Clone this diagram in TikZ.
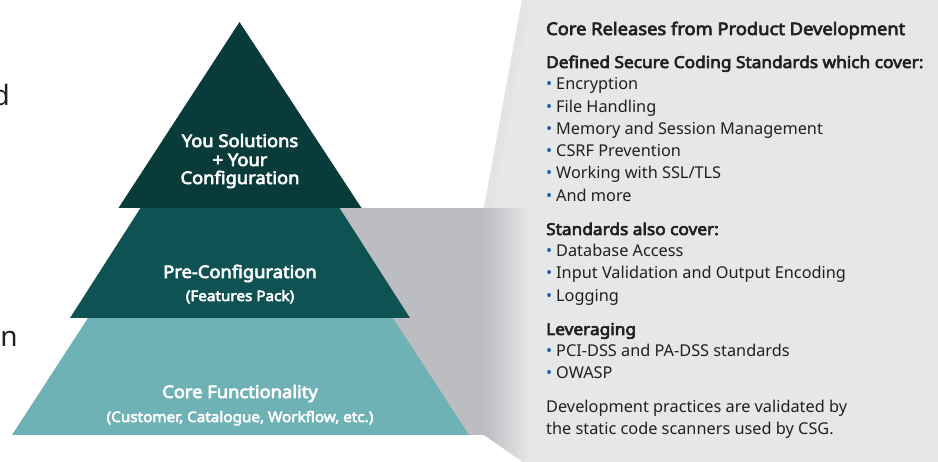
\documentclass[tikz,border=0pt]{standalone}
\usepackage{fontspec}
\setmainfont{Noto Sans}[BoldFont={Noto Sans}, BoldFeatures={FakeBold=3.8, FakeStretch=1.06}]
\usepackage{tikz}
\usetikzlibrary{positioning}
\definecolor{topteal}{HTML}{093B3A}
\definecolor{midteal}{HTML}{0F5254}
\definecolor{baseteal}{HTML}{6FB2B5}
\definecolor{shadowgray}{HTML}{BCBDC0}
\definecolor{panelgray}{HTML}{E6E7E9}
\definecolor{dotblue}{HTML}{1F5DA8}
\definecolor{ink}{HTML}{231F20}
\newcommand{\bul}{\makebox[10pt][l]{\textcolor{dotblue}{\textbullet}}}

\begin{document}
\begin{tikzpicture}[x=1pt,y=-1pt,
    every node/.style={inner sep=0pt, font=\fontsize{16.3}{18}\selectfont, text=ink},
    lvl/.style={anchor=base, text=white, font=\bfseries\fontsize{17.3}{19}\selectfont},
    lvlsub/.style={anchor=base, text=white, font=\bfseries\fontsize{14.4}{16}\selectfont},
    item/.style={anchor=base west},
    head/.style={anchor=base west, font=\bfseries\fontsize{16.3}{18}\selectfont}]
    \useasboundingbox (0,0) rectangle (938,462);

    % grey panel and its shadow
    \fill[panelgray] (522,0) -- (938,0) -- (938,462) -- (523,462) -- (484,435) -- (484,208) -- cycle;
    \fill[panelgray!92!shadowgray] (522,0) -- (530,0) -- (492,208) -- (484,208) -- cycle;
    \fill[shadowgray] (330,208) rectangle (484,435);
    \shade[left color=shadowgray, right color=panelgray] (484,208) -- (530,208) -- (530,462) -- (523,462) -- (484,435) -- cycle;

    % pyramid
    \fill[baseteal] (88,318) -- (393,318) -- (469,435) -- (12,435) -- cycle;
    \fill[midteal] (140.5,208) -- (339.5,208) -- (410,318) -- (70,318) -- cycle;
    \fill[topteal] (239.5,22) -- (361.5,208) -- (118.5,208) -- cycle;

    \node[lvl] (top1) at (240,147) {You Solutions};
    \node[lvl] (top2) at (240,166) {+ Your};
    \node[lvl] (top3) at (240,184) {Configuration};
    \node[lvl] (mid1) at (240,278) {Pre-Configuration};
    \node[lvlsub] (mid2) at (240,301) {(Features Pack)};
    \node[lvl] (core1) at (240,398) {Core Functionality};
    \node[lvlsub] (core2) at (240,422) {(Customer, Catalogue, Workflow, etc.)};

    % cut-off words on the left
    \node[anchor=base east, font=\fontsize{28}{30}\selectfont] (cut1) at (10,106) {d};
    \node[anchor=base east, font=\fontsize{28}{30}\selectfont] (cut2) at (18,347) {n};

    % panel text
    \node[head, font=\bfseries\fontsize{17.3}{20}\selectfont] (hd) at (546,35) {Core Releases from Product Development};
    \node[head] (hd1) at (546,68) {Defined Secure Coding Standards which cover:};
    \foreach \y/\t [count=\i] in {90/Encryption, 113/File Handling, 135/Memory and Session Management,
        157/CSRF Prevention, 179/{Working with SSL/TLS}, 202/And more}
        \node[item] (a\i) at (546,\y) {\bul\t};
    \node[head] (hd2) at (546,235) {Standards also cover:};
    \foreach \y/\t [count=\i] in {257/Database Access, 279/Input Validation and Output Encoding, 302/Logging}
        \node[item] (b\i) at (546,\y) {\bul\t};
    \node[head] (hd3) at (546,335) {Leveraging};
    \foreach \y/\t [count=\i] in {357/PCI-DSS and PA-DSS standards, 379/OWASP}
        \node[item] (c\i) at (546,\y) {\bul\t};
    \node[item] (note1) at (546,413) {Development practices are validated by};
    \node[item] (note2) at (546,435) {the static code scanners used by CSG.};
\end{tikzpicture}
\end{document}
